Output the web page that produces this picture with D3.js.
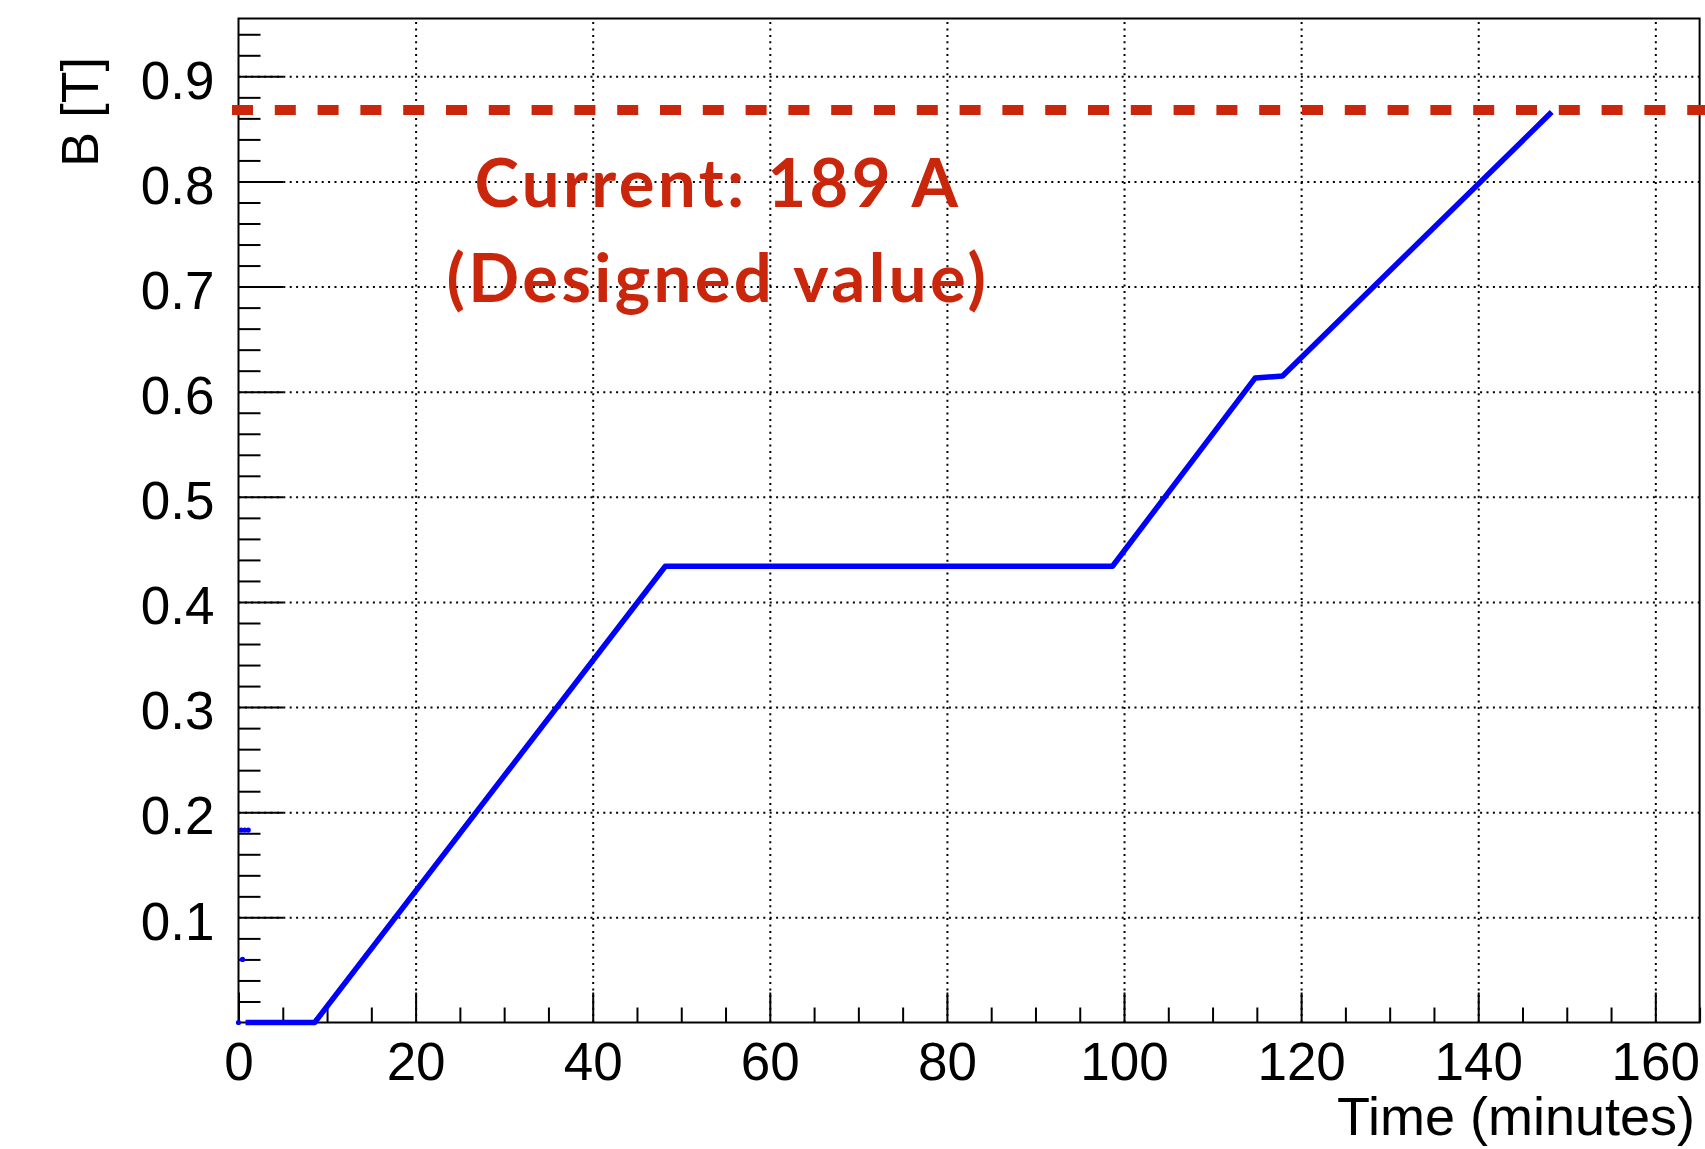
<!DOCTYPE html>
<html>
<head>
<meta charset="utf-8">
<script src="https://cdn.jsdelivr.net/npm/d3@7"></script>
<style>
  body { margin: 0; background: #fff; }
  .tick text { font-family: "Liberation Sans", Arial, sans-serif; fill: #000; }
</style>
</head>
<body>
<svg id="canvas"></svg>
<script>
// field ramp (time in minutes, field in tesla)
const timeMin = [0.8, 8.6, 48.2, 98.7, 114.8, 117.9, 148.3];
const fieldT  = [0, 0, 0.434, 0.434, 0.613, 0.615, 0.866];

// a few stray readings near the start
const strayTime  = [0, 0.3, 0.7, 1.1, 0.45];
const strayField = [0, 0.183, 0.183, 0.183, 0.060];

const designedField = 0.868;
const noteLines = ["Current: 189 A", "(Designed value)"];

const xMajor = [0, 20, 40, 60, 80, 100, 120, 140, 160];
const xMinor = [5, 10, 15, 25, 30, 35, 45, 50, 55, 65, 70, 75, 85, 90, 95, 105, 110, 115, 125, 130, 135, 145, 150, 155, 165];
const xTickLabels = ["0", "20", "40", "60", "80", "100", "120", "140", "160"];
const yMajor = [0.1, 0.2, 0.3, 0.4, 0.5, 0.6, 0.7, 0.8, 0.9];
const yMinor = [0.02, 0.04, 0.06, 0.08, 0.12, 0.14, 0.16, 0.18, 0.22, 0.24, 0.26, 0.28, 0.32, 0.34, 0.36, 0.38,
  0.42, 0.44, 0.46, 0.48, 0.52, 0.54, 0.56, 0.58, 0.62, 0.64, 0.66, 0.68, 0.72, 0.74, 0.76, 0.78,
  0.82, 0.84, 0.86, 0.88, 0.92, 0.94];
const yTickLabels = ["0.1", "0.2", "0.3", "0.4", "0.5", "0.6", "0.7", "0.8", "0.9"];

const W = 1705, H = 1149;
const svg = d3.select("#canvas").attr("width", W).attr("height", H);
svg.append("rect").attr("width", W).attr("height", H).attr("fill", "#fff");

const frameL = 238.5, frameR = 1699.6, frameT = 18.5, frameB = 1022.5;

const x = d3.scaleLinear().domain([0, 165]).range([frameL, frameR]);
const y = d3.scaleLinear().domain([0, 0.955]).range([frameB, frameT]);

// dotted grid
svg.append("g")
  .attr("transform", `translate(0,${frameB})`)
  .call(d3.axisBottom(x).tickValues(xMajor.slice(1)).tickSize(-(frameB - frameT)).tickFormat(""))
  .call(g => g.select(".domain").remove())
  .selectAll("line")
  .attr("stroke", "#000").attr("stroke-width", 2).attr("stroke-dasharray", "2,4.4");

svg.append("g")
  .attr("transform", `translate(${frameL},0)`)
  .call(d3.axisLeft(y).tickValues(yMajor).tickSize(-(frameR - frameL)).tickFormat(""))
  .call(g => g.select(".domain").remove())
  .selectAll("line")
  .attr("stroke", "#000").attr("stroke-width", 2).attr("stroke-dasharray", "2,4.4");

// ticks (inside the frame, ROOT style)
svg.append("g")
  .attr("transform", `translate(0,${frameB})`)
  .call(d3.axisBottom(x).tickValues(xMinor).tickSize(-15).tickFormat(""))
  .call(g => g.select(".domain").remove())
  .selectAll("line").attr("stroke", "#000").attr("stroke-width", 2);

const xAx = svg.append("g")
  .attr("transform", `translate(0,${frameB})`)
  .call(d3.axisBottom(x).tickValues(xMajor).tickSize(-30).tickPadding(0)
    .tickFormat((d, i) => xTickLabels[i]))
  .call(g => g.select(".domain").remove());
xAx.selectAll("line").attr("stroke", "#000").attr("stroke-width", 2);
xAx.selectAll("text").attr("y", 57).attr("dy", null).style("font-size", "53px");

svg.append("g")
  .attr("transform", `translate(${frameL},0)`)
  .call(d3.axisLeft(y).tickValues(yMinor).tickSize(-22).tickFormat(""))
  .call(g => g.select(".domain").remove())
  .selectAll("line").attr("stroke", "#000").attr("stroke-width", 2);

const yAx = svg.append("g")
  .attr("transform", `translate(${frameL},0)`)
  .call(d3.axisLeft(y).tickValues(yMajor).tickSize(-45).tickPadding(24)
    .tickFormat((d, i) => yTickLabels[i]))
  .call(g => g.select(".domain").remove());
yAx.selectAll("line").attr("stroke", "#000").attr("stroke-width", 2);
yAx.selectAll("text").attr("dy", "0.41em").style("font-size", "53px");

// frame
svg.append("rect")
  .attr("x", frameL).attr("y", frameT)
  .attr("width", frameR - frameL).attr("height", frameB - frameT)
  .attr("fill", "none").attr("stroke", "#000").attr("stroke-width", 2);

// axis titles
svg.append("text")
  .attr("x", 1695).attr("y", 1135)
  .attr("text-anchor", "end")
  .style("font-family", "'Liberation Sans', Arial, sans-serif")
  .style("font-size", "54px")
  .text("Time (minutes)");

svg.append("text")
  .attr("transform", "translate(98,57) rotate(-90)")
  .attr("text-anchor", "end")
  .style("font-family", "'Liberation Sans', Arial, sans-serif")
  .style("font-size", "52px")
  .text("B [T]");

// data
const series = timeMin.map((t, i) => ({ t: t, b: fieldT[i] }));
const line = d3.line().x(d => x(d.t)).y(d => y(d.b));

svg.append("path")
  .datum(series)
  .attr("fill", "none")
  .attr("stroke", "#0000ff")
  .attr("stroke-width", 5.5)
  .attr("stroke-linejoin", "round")
  .attr("d", line);

svg.selectAll("circle.stray")
  .data(strayTime.map((t, i) => ({ t: t, b: strayField[i] })))
  .enter()
  .append("circle")
  .attr("class", "stray")
  .attr("cx", d => x(d.t))
  .attr("cy", d => y(d.b))
  .attr("r", 2.6)
  .attr("fill", "#0000ff");

// designed value
svg.append("line")
  .attr("x1", 232).attr("x2", W)
  .attr("y1", y(designedField)).attr("y2", y(designedField))
  .attr("stroke", "#c9260b")
  .attr("stroke-width", 10)
  .attr("stroke-dasharray", "21,21.8");

svg.selectAll("text.note")
  .data(noteLines)
  .enter()
  .append("text")
  .attr("class", "note")
  .attr("x", 718)
  .attr("y", (d, i) => 207 + i * 95)
  .attr("text-anchor", "middle")
  .style("font-family", "Lato, sans-serif")
  .style("font-weight", 700)
  .style("font-size", "67px")
  .style("letter-spacing", "3.4px")
  .attr("fill", "#c9260b")
  .text(d => d);
</script>
</body>
</html>
